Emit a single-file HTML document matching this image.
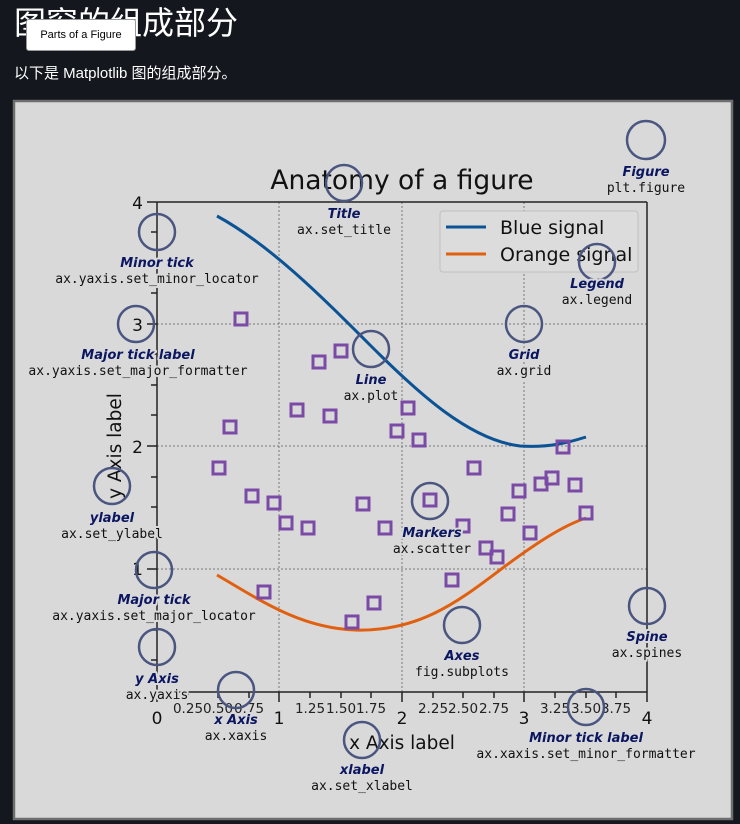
<!DOCTYPE html>
<html><head><meta charset="utf-8"><style>
html,body{margin:0;padding:0;background:#14171e;width:740px;height:824px;overflow:hidden}
h1{position:absolute;left:14px;top:1px;margin:0;font:32px "Liberation Sans","Noto Sans CJK SC",sans-serif;color:#fff;line-height:44px}
.tip{position:absolute;left:26px;top:19px;width:108px;height:30px;background:#fff;border:1px solid #999;border-radius:3px;font:11px "Liberation Sans",sans-serif;color:#000;text-align:center;line-height:31px}
p{position:absolute;left:14px;top:62px;margin:0;font:15px "Liberation Sans","Noto Sans CJK SC",sans-serif;color:#fff}
svg{position:absolute;left:0;top:0}
</style></head><body>
<h1>图窗的组成部分</h1>
<div class="tip">Parts of a Figure</div>
<p>以下是 Matplotlib 图的组成部分。</p>
<svg width="740" height="824" xmlns="http://www.w3.org/2000/svg">
<rect x="14" y="101" width="718" height="718" fill="#d9d9d9" stroke="#6e6e6e" stroke-width="2.5"/>
<g font-family="DejaVu Sans, Liberation Sans, sans-serif">
<text x="402" y="189" font-size="26.5" text-anchor="middle" fill="#111">Anatomy of a figure</text>
<g stroke="#777" stroke-width="1" stroke-dasharray="2,2">
<line x1="279" y1="202" x2="279" y2="692"/><line x1="402" y1="202" x2="402" y2="692"/><line x1="524" y1="202" x2="524" y2="692"/>
<line x1="157" y1="324" x2="647" y2="324"/><line x1="157" y1="446" x2="647" y2="446"/><line x1="157" y1="569" x2="647" y2="569"/>
</g>
<g stroke="#222" stroke-width="1.5" fill="none">
<line x1="157" y1="202" x2="647" y2="202"/><line x1="647" y1="202" x2="647" y2="692"/>
<line x1="157" y1="202" x2="157" y2="692"/><line x1="157" y1="692" x2="647" y2="692"/>
<path d="M147 202H157M147 324H157M147 446H157M147 569H157"/>
<path d="M151 232H157M151 263H157M151 293H157M151 354H157M151 385H157M151 415H157M151 477H157M151 507H157M151 538H157M151 599H157M151 630H157M151 660H157"/>
<path d="M279 692V702M402 692V702M524 692V702M647 692V702M157 692V702"/>
<path d="M188 692V698M218 692V698M249 692V698M310 692V698M341 692V698M371 692V698M433 692V698M463 692V698M494 692V698M555 692V698M586 692V698M616 692V698"/>
</g>
<g font-size="17" fill="#111" text-anchor="end">
<text x="143" y="209">4</text><text x="143" y="331">3</text><text x="143" y="453">2</text><text x="143" y="575">1</text>
</g>
<g font-size="17" fill="#111" text-anchor="middle">
<text x="157" y="724">0</text><text x="279" y="724">1</text><text x="402" y="724">2</text><text x="524" y="724">3</text><text x="647" y="724">4</text>
<text x="402" y="749" font-size="18.5">x Axis label</text>
<text transform="translate(121,446) rotate(-90)" font-size="18.5">y Axis label</text>
</g>
<g font-size="13.5" fill="#222" text-anchor="middle">
<text x="188" y="713">0.25</text><text x="218" y="713">0.50</text><text x="249" y="713">0.75</text>
<text x="310" y="713">1.25</text><text x="341" y="713">1.50</text><text x="371" y="713">1.75</text>
<text x="433" y="713">2.25</text><text x="463" y="713">2.50</text><text x="494" y="713">2.75</text>
<text x="555" y="713">3.25</text><text x="586" y="713">3.50</text><text x="616" y="713">3.75</text>
</g>
<path d="M217 216 C270 245 320 295 370 345 C420 395 470 440 520 446 C550 448 570 442 586 437" fill="none" stroke="#0b5394" stroke-width="3"/>
<path d="M217 575 C260 600 300 628 355 630 C420 632 460 600 500 570 C540 540 565 525 586 518" fill="none" stroke="#e06010" stroke-width="3"/>
<g fill="none" stroke="#7b4aa6" stroke-width="3">
<rect x="235" y="313" width="12" height="12"/><rect x="224" y="421" width="12" height="12"/><rect x="213" y="462" width="12" height="12"/>
<rect x="246" y="490" width="12" height="12"/><rect x="268" y="497" width="12" height="12"/><rect x="280" y="517" width="12" height="12"/>
<rect x="302" y="522" width="12" height="12"/><rect x="291" y="404" width="12" height="12"/><rect x="313" y="356" width="12" height="12"/>
<rect x="335" y="345" width="12" height="12"/><rect x="324" y="410" width="12" height="12"/><rect x="357" y="498" width="12" height="12"/>
<rect x="379" y="522" width="12" height="12"/><rect x="391" y="425" width="12" height="12"/><rect x="402" y="402" width="12" height="12"/>
<rect x="413" y="434" width="12" height="12"/><rect x="424" y="494" width="12" height="12"/><rect x="457" y="520" width="12" height="12"/>
<rect x="468" y="462" width="12" height="12"/><rect x="480" y="542" width="12" height="12"/><rect x="491" y="551" width="12" height="12"/>
<rect x="502" y="508" width="12" height="12"/><rect x="513" y="485" width="12" height="12"/><rect x="524" y="527" width="12" height="12"/>
<rect x="535" y="478" width="12" height="12"/><rect x="546" y="472" width="12" height="12"/><rect x="557" y="441" width="12" height="12"/>
<rect x="569" y="479" width="12" height="12"/><rect x="580" y="507" width="12" height="12"/><rect x="446" y="574" width="12" height="12"/>
<rect x="368" y="597" width="12" height="12"/><rect x="346" y="616" width="12" height="12"/><rect x="258" y="586" width="12" height="12"/>
</g>
<rect x="440" y="211" width="198" height="61" rx="3" fill="#dcdcdc" stroke="#c0c0c0"/>
<line x1="446" y1="227" x2="486" y2="227" stroke="#0b5394" stroke-width="3"/>
<line x1="446" y1="254" x2="486" y2="254" stroke="#e06010" stroke-width="3"/>
<text x="500" y="234" font-size="19" fill="#111">Blue signal</text>
<text x="500" y="261" font-size="19" fill="#111">Orange signal</text>
</g>
<g fill="none" stroke="#4a5580" stroke-width="2.5">
<circle cx="344" cy="183" r="18"/><circle cx="646" cy="140" r="19"/><circle cx="157" cy="232" r="18"/>
<circle cx="597" cy="262" r="18"/><circle cx="136" cy="324" r="18"/><circle cx="371" cy="349" r="18"/>
<circle cx="524" cy="324" r="18"/><circle cx="112" cy="486" r="18"/><circle cx="430" cy="501" r="18"/>
<circle cx="154" cy="570" r="18"/><circle cx="462" cy="625" r="18"/><circle cx="647" cy="606" r="18"/>
<circle cx="157" cy="647" r="18"/><circle cx="236" cy="690" r="18"/><circle cx="586" cy="707" r="18"/>
<circle cx="362" cy="740" r="18"/>
</g>
<g text-anchor="middle" stroke="#d9d9d9" stroke-width="4" paint-order="stroke" stroke-linejoin="round">
<g font-family="DejaVu Sans, Liberation Sans, sans-serif" font-size="13" font-weight="bold" font-style="italic" fill="#0b1660">
<text x="344" y="218">Title</text><text x="646" y="176">Figure</text><text x="157" y="267">Minor tick</text>
<text x="597" y="288">Legend</text><text x="138" y="359">Major tick label</text><text x="371" y="384">Line</text>
<text x="524" y="359">Grid</text><text x="112" y="522">ylabel</text><text x="432" y="537">Markers</text>
<text x="154" y="604">Major tick</text><text x="462" y="660">Axes</text><text x="647" y="641">Spine</text>
<text x="157" y="683">y Axis</text><text x="236" y="724">x Axis</text><text x="586" y="742">Minor tick label</text>
<text x="362" y="774">xlabel</text>
</g>
<g font-family="DejaVu Sans Mono, Liberation Mono, monospace" font-size="13" fill="#111">
<text x="344" y="234">ax.set_title</text><text x="646" y="192">plt.figure</text><text x="157" y="283">ax.yaxis.set_minor_locator</text>
<text x="597" y="304">ax.legend</text><text x="138" y="375">ax.yaxis.set_major_formatter</text><text x="371" y="400">ax.plot</text>
<text x="524" y="375">ax.grid</text><text x="112" y="538">ax.set_ylabel</text><text x="432" y="553">ax.scatter</text>
<text x="154" y="620">ax.yaxis.set_major_locator</text><text x="462" y="676">fig.subplots</text><text x="647" y="657">ax.spines</text>
<text x="157" y="699">ax.yaxis</text><text x="236" y="740">ax.xaxis</text><text x="586" y="758">ax.xaxis.set_minor_formatter</text>
<text x="362" y="790">ax.set_xlabel</text>
</g>
</g>
</svg>
</body></html>
